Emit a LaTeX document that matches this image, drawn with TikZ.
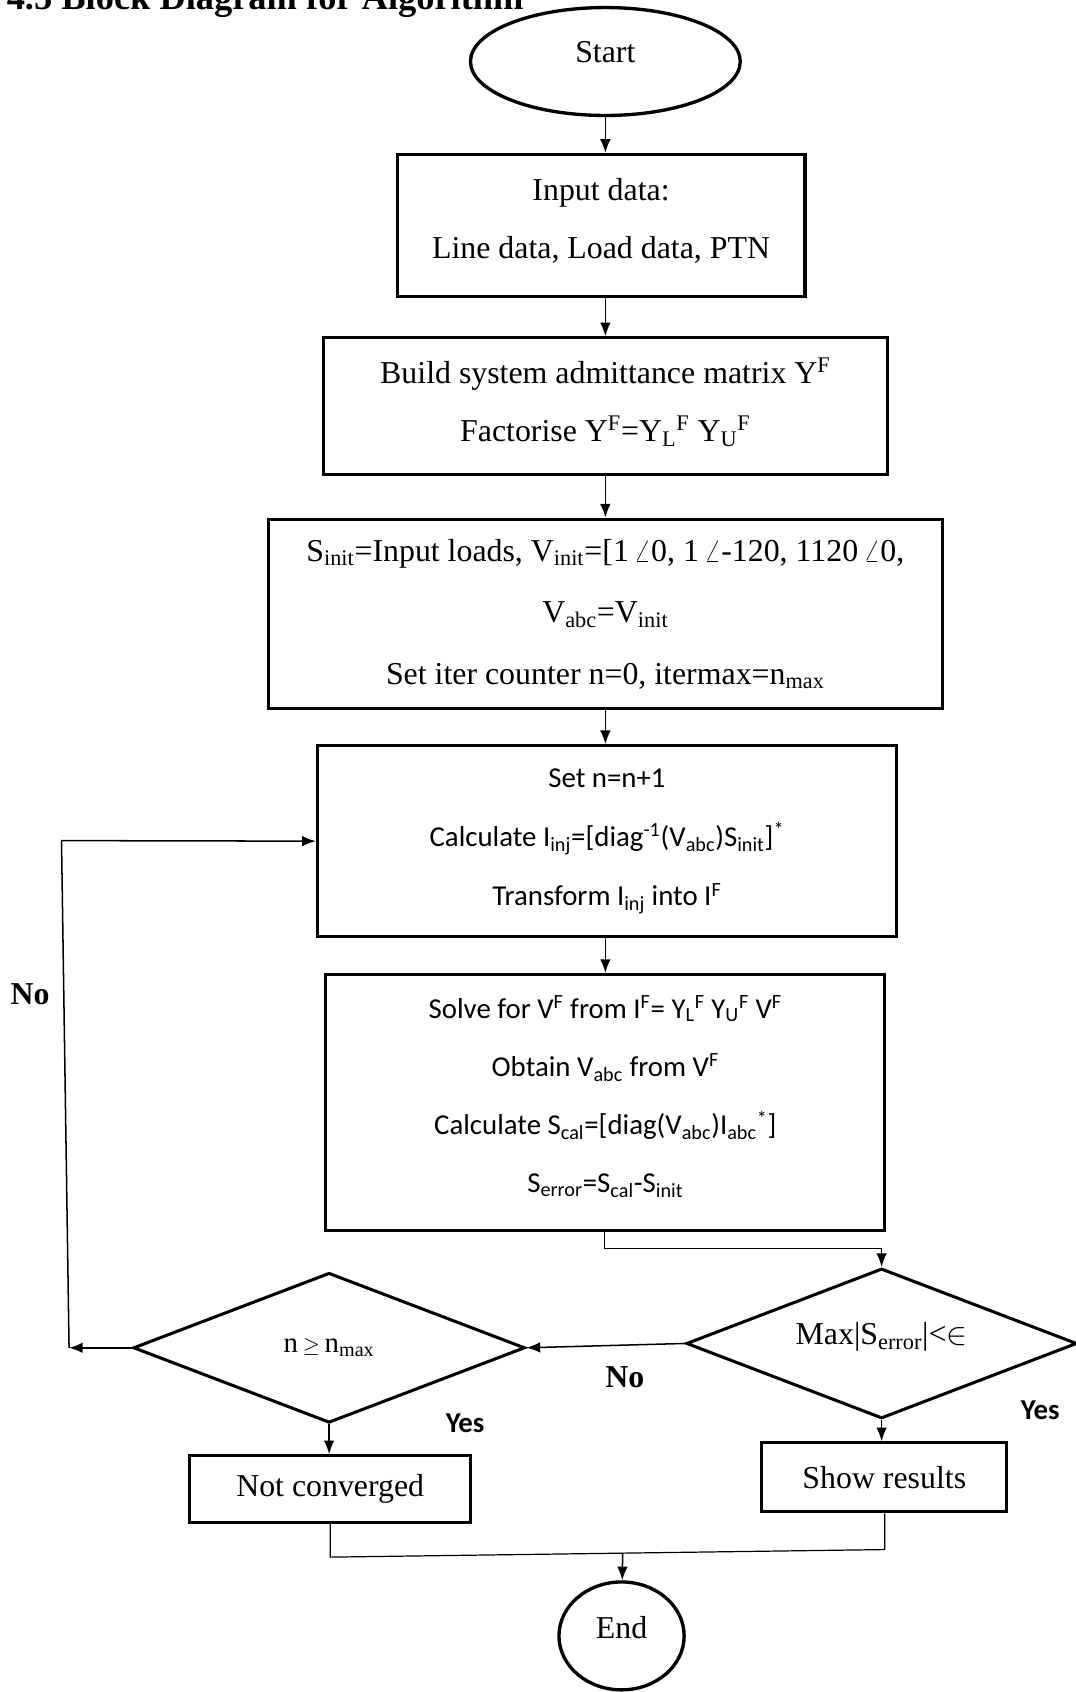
\documentclass[tikz,border=0pt]{standalone}
\usepackage{fontspec}
\setmainfont{Liberation Serif}
\newfontfamily\calibri{Carlito}
\usetikzlibrary{shapes.geometric, arrows.meta, calc}

% extra depth on the last line lifts a node's text
\newcommand{\liftby}[1]{\rule[-#1]{0pt}{#1}}

\tikzset{
  stepbox/.style={draw, line width=2pt, rectangle, inner sep=0pt, align=center},
  decision/.style={draw, line width=2pt, diamond, aspect=2.6, inner sep=0pt, align=center},
  terminal/.style={draw, line width=2.2pt, ellipse, inner sep=0pt},
  flow/.style={line width=1pt, -{Latex[length=9pt,width=7pt]}},
  link/.style={line width=0.8pt},
}

\begin{document}
\begin{tikzpicture}[x=0.25mm, y=-0.25mm]
  \useasboundingbox (0,0) rectangle (997,1568);

  % Title
  \node[anchor=base west, inner sep=0pt, font=\fontsize{24}{28}\selectfont\bfseries] (title) at (6,9) {4.5 Block Diagram for Algorithm};

  % Start
  \node[terminal, minimum width=62.5mm, minimum height=25mm, font=\fontsize{21}{25}\selectfont] (start) at (561,57) {Start\liftby{12.8pt}};

  % Steps
  \node[stepbox, minimum width=94.5mm, minimum height=33mm, font=\fontsize{21}{38.4}\selectfont] (input) at (557,209)
    {Input data:\\ Line data, Load data, PTN\liftby{9pt}};
  \node[stepbox, minimum width=130.75mm, minimum height=31.75mm, font=\fontsize{21}{38.4}\selectfont] (build) at (561,376.5)
    {Build system admittance matrix Y\textsuperscript{F}\\
     Factorise Y\textsuperscript{F}=Y\textsubscript{L}\textsuperscript{F} Y\textsubscript{U}\textsuperscript{F}\liftby{8.5pt}};
  \node[stepbox, minimum width=156.25mm, minimum height=44mm, font=\fontsize{21}{40.5}\selectfont] (sinit) at (561,569)
    {S\textsubscript{init}=Input loads, V\textsubscript{init}=[1\,$\angle$0, 1\,$\angle$-120, 1120\,$\angle$0,\\
     V\textsubscript{abc}=V\textsubscript{init}\\
     Set iter counter n=0, itermax=n\textsubscript{max}};
  \node[stepbox, minimum width=134.25mm, minimum height=44.25mm, font=\calibri\fontsize{19}{39}\selectfont] (setn) at (562.5,779.5)
    {Set n=n+1\\
     Calculate I\textsubscript{inj}=[diag\textsuperscript{-1}(V\textsubscript{abc})S\textsubscript{init}]\textsuperscript{*}\\
     Transform I\textsubscript{inj} into I\textsuperscript{F}};
  \node[stepbox, minimum width=129.5mm, minimum height=59.25mm, font=\calibri\fontsize{19}{38.4}\selectfont] (solve) at (561,1021.5)
    {Solve for V\textsuperscript{F} from I\textsuperscript{F}= Y\textsubscript{L}\textsuperscript{F} Y\textsubscript{U}\textsuperscript{F} V\textsuperscript{F}\\
     Obtain V\textsubscript{abc} from V\textsuperscript{F}\\
     Calculate S\textsubscript{cal}=[diag(V\textsubscript{abc})I\textsubscript{abc}\textsuperscript{*}]\\
     S\textsubscript{error}=S\textsubscript{cal}-S\textsubscript{init}\liftby{10.7pt}};

  % Decisions
  \node[decision, minimum width=90.5mm, minimum height=34.75mm, font=\fontsize{21}{25}\selectfont] (dR) at (817,1245)
    {Max|S\textsubscript{error}|<$\in$\liftby{12.8pt}};
  \node[decision, minimum width=90.75mm, minimum height=34.75mm, font=\fontsize{19}{23}\selectfont] (dL) at (305,1249)
    {n\,${\scriptstyle\geq}$\,n\textsubscript{max}};

  % Results
  \node[stepbox, minimum width=65mm, minimum height=15.5mm, font=\fontsize{21}{25}\selectfont] (notconv) at (306,1380) {Not converged};
  \node[stepbox, minimum width=56.75mm, minimum height=16mm, font=\fontsize{21}{25}\selectfont] (show) at (819.5,1369) {Show results};

  % End
  \node[terminal, minimum width=29mm, minimum height=25mm, font=\fontsize{21}{25}\selectfont] (end) at (576,1516) {End\liftby{11.4pt}};

  % Labels
  \node[font=\fontsize{21}{25}\selectfont\bfseries] (noloop) at (28,921) {No};
  \node[font=\fontsize{21}{25}\selectfont\bfseries] (nolabel) at (579,1276) {No};
  \node[font=\calibri\fontsize{19}{23}\selectfont\bfseries] (yesL) at (431,1319) {Yes};
  \node[font=\calibri\fontsize{19}{23}\selectfont\bfseries] (yesR) at (964,1307) {Yes};

  % Main flow
  \draw[flow] (start.south) -- (start.south |- input.north);
  \draw[flow] (input.south -| start.south) -- (build.north);
  \draw[flow] (build.south) -- (sinit.north);
  \draw[flow] (sinit.south) -- (sinit.south |- setn.north);
  \draw[flow] (setn.south -| solve.north) -- (solve.north);
  \coordinate (k1) at (560,1157);
  \draw[flow] (solve.south -| k1) -- (k1) -| (dR.north);
  \draw[flow] (dR.west) -- (dL.east);
  \draw[flow] (dR.south) -- (dR.south |- show.north);
  \draw[flow] (dL.south) -- (dL.south |- notconv.north);

  % Loop back
  \coordinate (fbb) at (64,1249);
  \coordinate (fbt) at (57,779);
  \draw[flow] (dL.west) -- (fbb);
  \draw[flow] (fbb) -- (fbt) -- (setn.west);

  % Join
  \coordinate (jl) at (306,1443);
  \coordinate (jr) at (820,1436);
  \coordinate (jm) at (577,1439);
  \draw[link] (notconv.south) -- (jl) -- (jr) -- (show.south -| jr);
  \draw[flow] (jm) -- (end);
\end{tikzpicture}
\end{document}
